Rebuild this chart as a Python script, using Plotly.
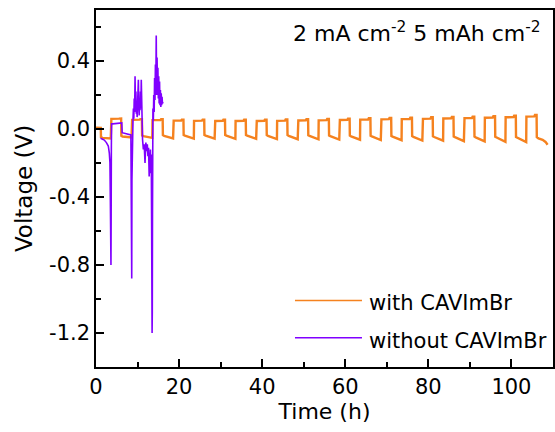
import plotly.graph_objects as go

# ---------------- data ----------------
# with CAVImBr: galvanostatic cycling, 2.5 h per half cycle
rest_t = [0.0, 1.15]
rest_v = [0.008, 0.006]
first_neg_t = [1.2, 1.6, 3.55]
first_neg_v = [-0.048, -0.052, -0.056]

charge_start_h = [3.6, 8.6, 13.6, 18.6, 23.6, 28.6, 33.6, 38.6, 43.6, 48.6, 53.6,
                  58.6, 63.6, 68.6, 73.6, 78.6, 83.6, 88.6, 93.6, 98.6, 103.6]
charge_level_v = [0.060, 0.054, 0.052, 0.049, 0.048, 0.047, 0.047, 0.047, 0.048, 0.050, 0.051,
                  0.053, 0.055, 0.057, 0.058, 0.060, 0.062, 0.064, 0.066, 0.069, 0.073]
charge_end_v = [0.062, 0.058, 0.057, 0.055, 0.054, 0.054, 0.055, 0.055, 0.056, 0.058, 0.059,
                0.061, 0.063, 0.065, 0.067, 0.069, 0.071, 0.073, 0.075, 0.078, 0.082]
discharge_start_v = [-0.040, -0.038, -0.036, -0.035, -0.035, -0.035, -0.035, -0.036, -0.036, -0.037,
                     -0.038, -0.039, -0.040, -0.041, -0.042, -0.043, -0.044, -0.045, -0.046, -0.047]
discharge_end_v = [-0.050, -0.052, -0.055, -0.056, -0.057, -0.058, -0.058, -0.059, -0.060, -0.061,
                   -0.062, -0.063, -0.065, -0.066, -0.068, -0.069, -0.071, -0.073, -0.075, -0.077]
last_neg_t = [106.1, 106.5, 107.5, 108.2, 108.7]
last_neg_v = [-0.048, -0.055, -0.064, -0.076, -0.093]

# without CAVImBr
wo_t = [1.1, 2.0, 2.5, 2.96, 3.2, 3.36, 3.45, 3.55, 3.6, 3.65, 3.7, 3.75, 4.0, 6.2,
        6.3, 8.3, 8.4, 8.5, 8.6, 8.65, 8.75, 8.9, 9.0, 9.1, 9.2, 9.3, 9.4, 9.5, 9.6, 9.7,
        9.8, 9.9, 10.0, 10.1, 10.2, 10.3, 10.4, 10.5, 10.6, 10.7, 10.8, 10.9, 11.0, 11.1,
        11.2, 11.4, 11.6, 11.8, 12.0, 12.2, 12.35, 12.5, 12.65, 12.8, 12.9, 13.0, 13.1, 13.2,
        13.3, 13.4, 13.45, 13.5, 13.55, 13.6, 13.65, 13.7, 13.8, 13.9, 14.0, 14.1, 14.2, 14.3,
        14.4, 14.5, 14.6, 14.7, 14.8, 14.9, 15.0, 15.1, 15.2, 15.3, 15.4, 15.5, 15.6, 15.7,
        15.8, 15.9, 16.0, 16.1]
wo_v = [-0.055, -0.065, -0.08, -0.10, -0.14, -0.20, -0.40, -0.70, -0.80, -0.50, -0.10, 0.03, 0.030, 0.036,
        -0.022, -0.032, -0.035, -0.45, -0.88, -0.30, 0.015, 0.05, 0.12, 0.06, 0.18, 0.10, 0.31, 0.12, 0.22, 0.09,
        0.16, 0.07, 0.20, 0.10, 0.29, 0.14, 0.08, 0.17, 0.11, 0.22, 0.12, 0.29, 0.15, 0.10,
        -0.06, -0.12, -0.09, -0.20, -0.08, -0.13, -0.09, -0.16, -0.11, -0.28, -0.14, -0.22, -0.12, -0.26,
        -0.15, -0.60, -1.10, -1.20, -1.08, -0.50, 0.02, 0.12, 0.05, 0.20, 0.10, 0.30, 0.17, 0.38,
        0.24, 0.55, 0.20, 0.42, 0.22, 0.36, 0.18, 0.31, 0.15, 0.28, 0.14, 0.23, 0.13, 0.21,
        0.14, 0.19, 0.15, 0.16]

x_tick_vals = [0, 20, 40, 60, 80, 100]
x_tick_text = ["0", "20", "40", "60", "80", "100"]
y_tick_vals = [-1.2, -0.8, -0.4, 0.0, 0.4]
y_tick_text = ["-1.2", "-0.8", "-0.4", "0.0", "0.4"]

series_names = ["with CAVImBr", "without CAVImBr"]
series_colors = ["#F5821F", "#8000FF"]

# ---------------- build "with" trace from the cycle table ----------------
w_t = list(rest_t) + list(first_neg_t)
w_v = list(rest_v) + list(first_neg_v)
for k, t0 in enumerate(charge_start_h):
    P, Pe = charge_level_v[k], charge_end_v[k]
    w_t += [t0, t0 + 0.1, t0 + 1.9, t0 + 2.05, t0 + 2.45]
    w_v += [P, P, P + 0.001, Pe, Pe]
    if k < len(discharge_start_v):
        N1, N2 = discharge_start_v[k], discharge_end_v[k]
        w_t += [t0 + 2.5, t0 + 2.8, t0 + 4.95]
        w_v += [N1, N1 - 0.004, N2]
w_t += last_neg_t
w_v += last_neg_v

FONT = "DejaVu Sans"
fig = go.Figure()
fig.add_trace(go.Scatter(x=w_t, y=w_v, mode="lines", name=series_names[0],
                         line=dict(color=series_colors[0], width=2.4), showlegend=False))
fig.add_trace(go.Scatter(x=wo_t, y=wo_v, mode="lines", name=series_names[1],
                         line=dict(color=series_colors[1], width=1.6), showlegend=False))

# manual legend (long sample lines as in the reference)
leg_y = [0.186, 0.082]
for i in range(2):
    fig.add_shape(type="line", xref="paper", yref="paper", x0=0.4354, x1=0.582,
                  y0=leg_y[i], y1=leg_y[i], line=dict(color=series_colors[i], width=1.5))
    fig.add_annotation(xref="paper", yref="paper", x=0.592, y=leg_y[i] - 0.008,
                       text=series_names[i], showarrow=False, xanchor="left", yanchor="middle",
                       font=dict(family=FONT, size=21, color="black"))

fig.add_annotation(xref="paper", yref="paper", x=0.978, y=0.983,
                   text="2 mA cm<sup>-2</sup> 5 mAh cm<sup>-2</sup>", showarrow=False,
                   xanchor="right", yanchor="top",
                   font=dict(family=FONT, size=22, color="black"))

axis_common = dict(showline=True, linecolor="black", linewidth=1.5, mirror=True,
                   ticks="inside", tickcolor="black", tickwidth=1.5, ticklen=8,
                   showgrid=False, zeroline=False,
                   tickfont=dict(family=FONT, size=21, color="black"))
fig.update_xaxes(range=[0, 110], tickvals=x_tick_vals, ticktext=x_tick_text,
                 minor=dict(ticks="inside", dtick=10, tick0=0, ticklen=5, tickwidth=1.5,
                            tickcolor="black"),
                 title=dict(text="Time (h)", font=dict(family=FONT, size=22, color="black"),
                            standoff=6),
                 **axis_common)
fig.update_yaxes(range=[-1.4, 0.7], tickvals=y_tick_vals, ticktext=y_tick_text,
                 minor=dict(ticks="inside", dtick=0.2, tick0=0, ticklen=5, tickwidth=1.5,
                            tickcolor="black"),
                 title=dict(text="Voltage (V)", font=dict(family=FONT, size=23, color="black"),
                            standoff=10),
                 **axis_common)
fig.update_layout(width=555, height=432, margin=dict(l=96, r=2, t=10, b=65, autoexpand=False),
                  paper_bgcolor="white", plot_bgcolor="white",
                  font=dict(family=FONT, color="black"))
fig.write_html("out.html")
